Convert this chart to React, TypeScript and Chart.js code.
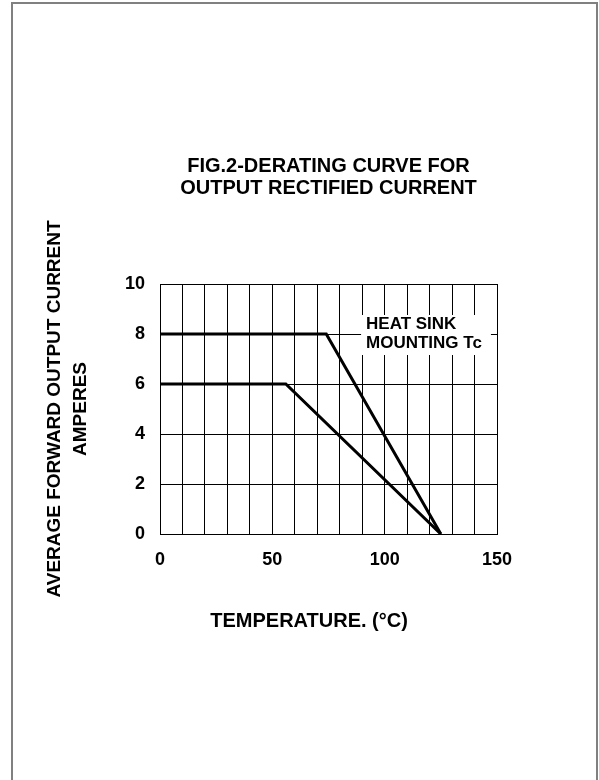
import React, { useEffect, useRef } from 'react';
import { Chart, registerables } from 'chart.js';

Chart.register(...registerables);

// ---- Text ----
const TITLE_LINES = ['FIG.2-DERATING CURVE FOR', 'OUTPUT RECTIFIED CURRENT'];
const Y_TITLE_LINES = ['AVERAGE FORWARD OUTPUT CURRENT', 'AMPERES'];
const X_TITLE = 'TEMPERATURE. (°C)';
const NOTE_LINES = ['HEAT SINK', 'MOUNTING Tc'];

// ---- Tick labels ----
const X_TICK_LABELS = [0, 50, 100, 150];
const Y_TICK_LABELS = [0, 2, 4, 6, 8, 10];

// ---- Series (temperature °C, current A) ----
const heatSinkTemps = [0, 74, 125];
const heatSinkAmps = [8, 8, 0];
const secondTemps = [0, 56, 125];
const secondAmps = [6, 6, 0];

const FONT = "'Liberation Sans', Arial, Helvetica, sans-serif";

const toPoints = (xs: number[], ys: number[]) => xs.map((x, i) => ({ x, y: ys[i] }));

const noteBoxPlugin = {
  id: 'noteBox',
  afterDatasetsDraw(chart: any) {
    const { ctx, scales } = chart;
    const xs = scales.x;
    const ys = scales.y;
    const x0 = xs.getPixelForValue(89.5);
    const x1 = xs.getPixelForValue(147.3);
    const y0 = ys.getPixelForValue(8.76);
    const y1 = ys.getPixelForValue(7.16);
    ctx.save();
    ctx.fillStyle = '#ffffff';
    ctx.fillRect(x0, y0, x1 - x0, y1 - y0);
    ctx.fillStyle = '#000000';
    ctx.font = `bold 17px ${FONT}`;
    ctx.textAlign = 'left';
    ctx.textBaseline = 'middle';
    const tx = xs.getPixelForValue(91.7);
    const lineYs = [8.4, 7.64];
    NOTE_LINES.forEach((t, i) => ctx.fillText(t, tx, ys.getPixelForValue(lineYs[i])));
    ctx.restore();
  },
};

export default function App() {
  const canvasRef = useRef<HTMLCanvasElement | null>(null);

  useEffect(() => {
    if (!canvasRef.current) return;
    Chart.defaults.font.family = FONT;
    const chart = new Chart(canvasRef.current, {
      type: 'line',
      data: {
        datasets: [
          {
            data: toPoints(heatSinkTemps, heatSinkAmps),
            borderColor: '#000',
            borderWidth: 3,
            pointRadius: 0,
            tension: 0,
            fill: false,
            borderJoinStyle: 'miter',
          },
          {
            data: toPoints(secondTemps, secondAmps),
            borderColor: '#000',
            borderWidth: 3,
            pointRadius: 0,
            tension: 0,
            fill: false,
            borderJoinStyle: 'miter',
          },
        ],
      },
      options: {
        animation: false,
        responsive: false,
        events: [],
        layout: { padding: { left: 0, right: 102, top: 0, bottom: 0 } },
        plugins: {
          legend: { display: false },
          tooltip: { enabled: false },
          title: {
            display: true,
            text: TITLE_LINES,
            fullSize: false,
            color: '#000',
            font: { size: 20, weight: 'bold', lineHeight: 1.075 },
            padding: { top: 156, bottom: 85 },
          },
        },
        scales: {
          x: {
            type: 'linear',
            min: 0,
            max: 150,
            afterFit: (s: any) => {
              s.height = 246;
            },
            ticks: {
              stepSize: 10,
              autoSkip: false,
              maxRotation: 0,
              padding: 15,
              color: '#000',
              font: { size: 18, weight: 'bold' },
              callback: (v: any) => (X_TICK_LABELS.includes(Number(v)) ? String(v) : ''),
            },
            grid: { color: '#000', lineWidth: 1, drawTicks: false },
            border: { color: '#000', width: 1 },
            title: {
              display: true,
              text: X_TITLE + '       ',
              color: '#000',
              font: { size: 20, weight: 'bold' },
              padding: { top: 0, bottom: 147 },
            },
          },
          y: {
            type: 'linear',
            min: 0,
            max: 10,
            afterFit: (s: any) => {
              s.width = 160;
            },
            ticks: {
              stepSize: 2,
              padding: 15,
              color: '#000',
              font: { size: 18, weight: 'bold' },
              callback: (v: any) => (Y_TICK_LABELS.includes(Number(v)) ? String(v) : ''),
            },
            grid: { color: '#000', lineWidth: 1, drawTicks: false },
            border: { color: '#000', width: 1 },
            title: {
              display: true,
              text: Y_TITLE_LINES,
              color: '#000',
              font: { size: 19, weight: 'bold', lineHeight: 26 / 19 },
              padding: { top: 42, bottom: 0 },
            },
          },
        },
      },
      plugins: [noteBoxPlugin],
    } as any);
    return () => chart.destroy();
  }, []);

  return (
    <div style={{ position: 'fixed', left: 0, top: 0, width: 599, height: 780, background: '#fff', overflow: 'hidden' }}>
      <div
        style={{
          position: 'absolute',
          left: 11,
          top: 2,
          width: 583,
          height: 790,
          borderLeft: '2px solid #808080',
          borderRight: '2px solid #808080',
          borderTop: '2px solid #808080',
        }}
      />
      <canvas ref={canvasRef} width={599} height={780} style={{ position: 'absolute', left: 0, top: 0 }} />
    </div>
  );
}
